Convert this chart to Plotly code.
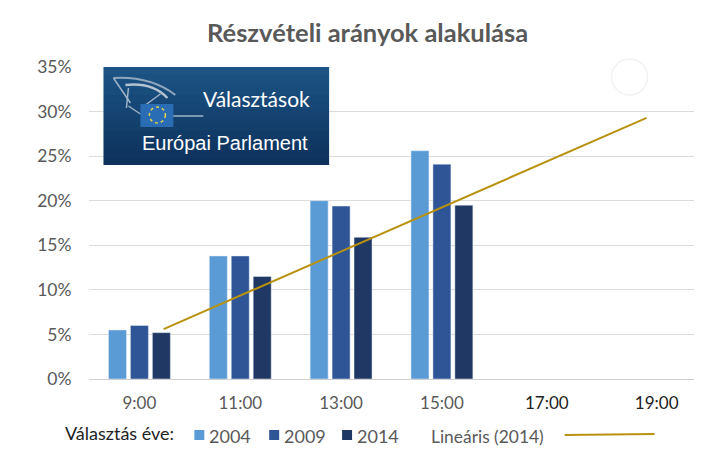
import plotly.graph_objects as go

hours = ['9:00', '11:00', '13:00', '15:00', '17:00', '19:00']
hour_pos = [0, 1, 2, 3]
# the last two labels sit a little off the even spacing in the original
hour_label_pos = [0, 1, 2, 3, 4.04, 5.13]
turnout_2004 = [5.5, 13.8, 20.0, 25.6]
turnout_2009 = [6.0, 13.8, 19.4, 24.1]
turnout_2014 = [5.2, 11.5, 15.9, 19.5]
trend_x = [0.24, 5.03]
trend_y = [5.6, 29.3]
pct_vals = [0, 5, 10, 15, 20, 25, 30, 35]
pct_labels = ['0%', '5%', '10%', '15%', '20%', '25%', '30%', '35%']

C_2004 = '#5b9bd5'
C_2009 = '#2f5597'
C_2014 = '#1f3864'
C_TREND = '#b8920f'
GREY = '#595959'
FONT = 'Lato'

# plot area in page pixels, the page body adds an 8px margin around the figure
L, R, T, B = 88.5, 694.5, 67, 379
BODY = 8
FIG_W, FIG_H = 725 - 2 * BODY, 467 - 2 * BODY


def px(x):
    return (x - L) / (R - L)


def py(y):
    return (B - y) / (B - T)


def rect(x0, y0, x1, y1, color, layer='above'):
    return dict(type='rect', xref='paper', yref='paper', x0=px(x0), x1=px(x1), y0=py(y0), y1=py(y1),
                fillcolor=color, line_width=0, layer=layer)


def seg(x0, y0, x1, y1, color, width=1.5):
    return dict(type='line', xref='paper', yref='paper', x0=px(x0), x1=px(x1), y0=py(y0), y1=py(y1),
                line=dict(color=color, width=width), layer='above')


def arc(x0, y0, cx, cy, x1, y1, color, width=2):
    path = f'M {px(x0)} {py(y0)} Q {px(cx)} {py(cy)} {px(x1)} {py(y1)}'
    return dict(type='path', xref='paper', yref='paper', path=path, line=dict(color=color, width=width), layer='above')


def label(x, y, text, size=16, color=GREY, anchor='left', family=FONT):
    return dict(xref='paper', yref='paper', x=px(x), y=py(y), text=text, showarrow=False, xanchor=anchor,
                yanchor='middle', font=dict(family=family, size=size, color=color))


fig = go.Figure()
for name, values, color in [('2004', turnout_2004, C_2004), ('2009', turnout_2009, C_2009),
                            ('2014', turnout_2014, C_2014)]:
    fig.add_trace(go.Bar(x=hour_pos, y=values, name=name, marker_color=color, showlegend=False))
fig.add_trace(go.Scatter(x=trend_x, y=trend_y, mode='lines', line=dict(color=C_TREND, width=2),
                         name='Lineáris (2014)', showlegend=False))

shapes = []
# logo background, dark gradient built from thin strips
for i in range(14):
    t = i / 13
    r = int(27 + (14 - 27) * t)
    g = int(84 + (50 - 84) * t)
    b = int(133 + (92 - 133) * t)
    shapes.append(rect(103, 67 + i * 7, 329, 67 + (i + 1) * 7, f'rgb({r},{g},{b})'))
# parliament sketch + flag
shapes.append(arc(113, 78, 150, 76, 175, 95, '#8fa6bd', 2))
shapes.append(arc(125, 85, 152, 82, 167, 98, '#b4c3d2', 2.5))
for x0, y0, x1, y1 in [(113, 78, 130, 103), (128, 88, 126, 108), (145, 105, 160, 94),
                       (128, 106, 140, 114), (172, 116, 203, 116)]:
    shapes.append(seg(x0, y0, x1, y1, '#9fb4c9', 1.5))
shapes.append(rect(140, 104, 173, 127, '#2a6db5'))
shapes.append(dict(type='circle', xref='paper', yref='paper', x0=px(149), x1=px(165), y0=py(107), y1=py(123),
                   line=dict(color='#e8d44a', width=1.5, dash='dot'), layer='above'))
# faint circle in the top right corner
shapes.append(dict(type='circle', xref='paper', yref='paper', x0=px(612), x1=px(648), y0=py(59), y1=py(95),
                   line=dict(color='#f2f2f2', width=1.5), layer='above'))
# legend swatches and trend sample
shapes.append(rect(194, 430, 204, 440, C_2004))
shapes.append(rect(269, 430, 279, 440, C_2009))
shapes.append(rect(342, 430, 352, 440, C_2014))
shapes.append(seg(565, 435, 655, 434, C_TREND, 2))

annotations = [
    label(367.5, 32, '<b>Részvételi arányok alakulása</b>', size=25.5, anchor='center'),
    label(201, 98, 'Választások', size=21, color='#ffffff'),
    label(140, 143, 'Európai Parlament', size=20, color='#ffffff', family='Liberation Sans'),
    label(62.5, 433, 'Választás éve:', size=18, color='#222222'),
    label(207, 436, '2004', size=18),
    label(282, 436, '2009', size=18),
    label(355, 436, '2014', size=18),
    label(429, 436, 'Lineáris (2014)', size=17.4),
]

fig.update_layout(
    width=FIG_W,
    height=FIG_H,
    autosize=False,
    margin=dict(l=L - BODY, r=FIG_W + BODY - R, t=T - BODY, b=FIG_H + BODY - B),
    plot_bgcolor='white',
    paper_bgcolor='white',
    font_family=FONT,
    font_color=GREY,
    font_size=17,
    barmode='group',
    bargap=0.347,
    bargroupgap=0.18,
    shapes=shapes,
    annotations=annotations,
    xaxis=dict(range=[-0.5, 5.5], tickmode='array', tickvals=hour_label_pos,
               ticktext=[h if i < 4 else f'<span style="color:#222222">{h}</span>' for i, h in enumerate(hours)],
               showgrid=False, zeroline=False, showline=True, linecolor='#d0d0d0', ticks='outside',
               ticklen=9, tickcolor='rgba(0,0,0,0)', tickfont=dict(size=17)),
    yaxis=dict(range=[0, 35], tickmode='array', tickvals=pct_vals, ticktext=pct_labels,
               gridcolor='#dcdcdc', zeroline=False, ticks='outside', ticklen=13,
               tickcolor='rgba(0,0,0,0)', tickfont=dict(size=17.5)),
)

fig.write_html("out.html")
